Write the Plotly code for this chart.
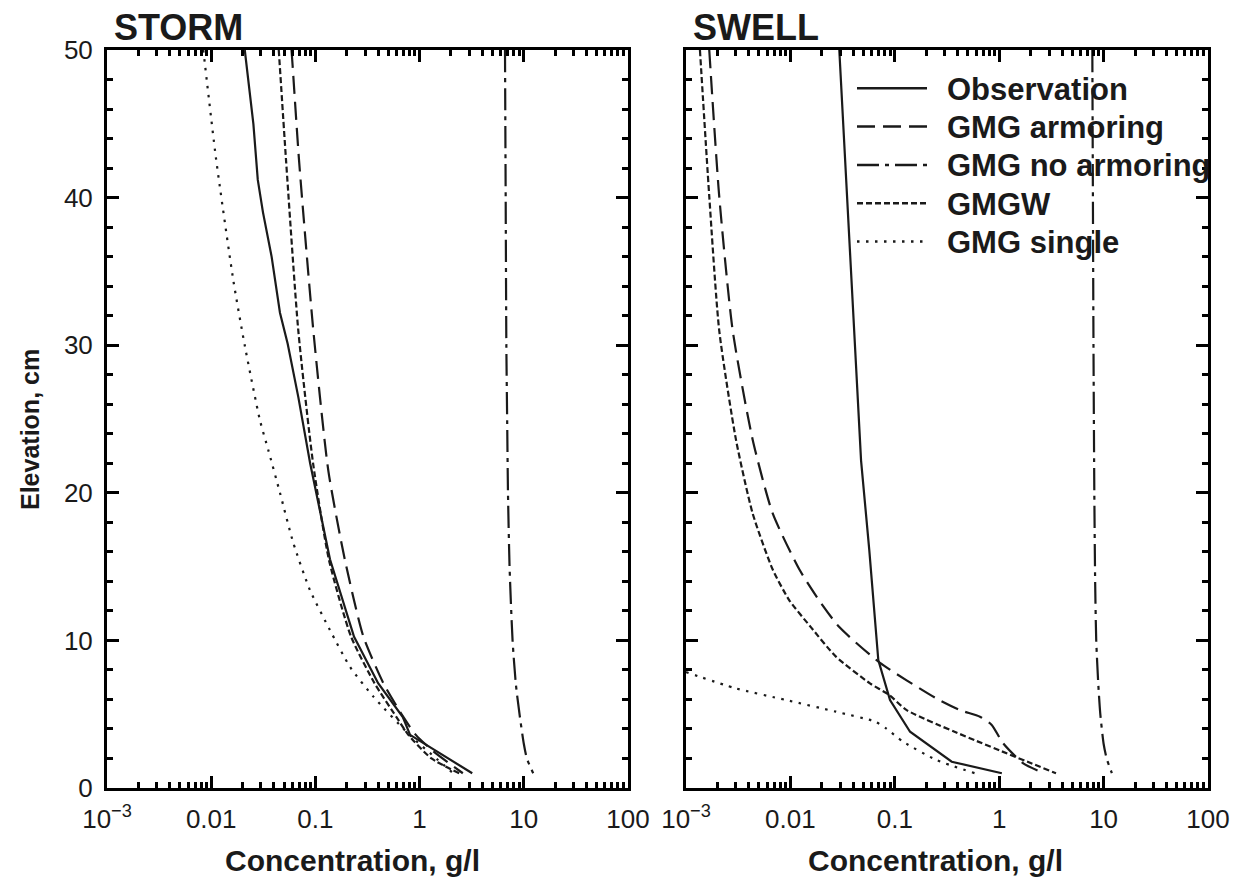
import plotly.graph_objects as go

# ---------------- data ----------------
# STORM panel
storm_obs_z = [50, 45, 41.2, 39, 36, 32.2, 30.1, 26.5, 22, 15.5, 10.25, 7.1, 4.8, 3.6, 1.0]
storm_obs_c = [0.021, 0.0254, 0.028, 0.0314, 0.038, 0.0457, 0.0542, 0.0685, 0.089, 0.138, 0.235, 0.40, 0.69, 0.81, 3.2]

storm_arm_z = [50, 48.9, 42.5, 31, 21.5, 15.45, 10.25, 7.09, 4.8, 3.6, 2.5, 1.0]
storm_arm_c = [0.059, 0.0605, 0.0697, 0.0955, 0.133, 0.192, 0.289, 0.45, 0.70, 0.92, 1.35, 2.6]

storm_noarm_z = [50, 40, 30, 24.7, 20, 15, 10, 7, 5, 3, 2, 1.0]
storm_noarm_c = [6.6, 6.7, 6.8, 6.93, 7.05, 7.3, 7.8, 8.4, 9.1, 10.0, 10.7, 12.3]

storm_gmgw_z = [50, 42.5, 31, 22, 15.45, 10.25, 7.09, 4.8, 3.6, 2.0, 1.0]
storm_gmgw_c = [0.0445, 0.0523, 0.0685, 0.095, 0.135, 0.22, 0.37, 0.60, 0.78, 1.3, 2.4]

storm_single_z = [50, 42.7, 34.4, 29.9, 24.9, 22.9, 20.0, 16.6, 13.4, 10.7, 8.2, 6.19, 3.6, 1.9, 1.0]
storm_single_c = [0.0084, 0.0111, 0.0163, 0.0211, 0.0294, 0.0353, 0.0457, 0.0614, 0.0888, 0.138, 0.215, 0.36, 0.80, 1.5, 2.1]

# SWELL panel
swell_obs_z = [50, 38.0, 31.0, 25.6, 22.2, 16.1, 12.7, 10.9, 8.67, 5.96, 3.81, 1.78, 1.0]
swell_obs_c = [0.0294, 0.0361, 0.0402, 0.0441, 0.0475, 0.057, 0.0622, 0.0646, 0.0695, 0.090, 0.140, 0.351, 1.06]

swell_arm_z = [50, 40.1, 31.0, 23.6, 18.6, 14.8, 12.7, 10.9, 8.5, 6.08, 5.28, 4.83, 4.27, 3.03, 1.67, 1.0]
swell_arm_c = [0.00167, 0.00208, 0.0028, 0.00435, 0.00677, 0.0122, 0.0189, 0.0294, 0.0716, 0.248, 0.421, 0.654, 0.848, 1.09, 1.70, 2.7]

swell_noarm_z = [50, 40, 30, 20, 14, 10, 7, 5, 3, 2, 1.0]
swell_noarm_c = [7.8, 7.9, 8.0, 8.15, 8.3, 8.5, 8.9, 9.3, 10.0, 10.7, 12.0]

swell_gmgw_z = [50, 40.1, 31.0, 23.6, 18.6, 14.8, 12.7, 10.9, 8.9, 7.09, 6.3, 5.28, 1.0]
swell_gmgw_c = [0.00136, 0.00167, 0.00208, 0.00301, 0.00435, 0.00677, 0.0098, 0.0157, 0.0273, 0.0578, 0.0885, 0.13, 3.5]

swell_single_z = [7.85, 6.75, 5.96, 5.17, 4.5, 4.04, 3.14, 1.9, 1.0]
swell_single_c = [0.001, 0.003, 0.0091, 0.0273, 0.0646, 0.0825, 0.12, 0.25, 0.586]

series_names = ["Observation", "GMG armoring", "GMG no armoring", "GMGW", "GMG single"]
panel_titles = ["STORM", "SWELL"]
x_tickvals = [0.001, 0.01, 0.1, 1, 10, 100]
x_ticktext = ["10<sup>\u22123</sup>", "0.01", "0.1", "1", "10", "100"]
y_tickvals = [0, 10, 20, 30, 40, 50]

# ---------------- styling ----------------
PAGE_OFF = 8            # default page body margin
W, H = 1240 - PAGE_OFF, 888 - PAGE_OFF
INK = "#1a1a1a"
FONT = "Liberation Sans, Arial, Helvetica, sans-serif"
dashes = {
    "Observation": "solid",
    "GMG armoring": "18px,8px",
    "GMG no armoring": "22px,6px,4px,6px",
    "GMGW": "6px,3px",
    "GMG single": "2.5px,6.5px",
}
shapes_ = {
    "Observation": "linear",
    "GMG armoring": "spline",
    "GMG no armoring": "spline",
    "GMGW": "spline",
    "GMG single": "spline",
}

def px_x(p):
    return (p - PAGE_OFF) / W

def px_y(p):
    return 1 - (p - PAGE_OFF) / H

fig = go.Figure()

storm = [(storm_obs_c, storm_obs_z), (storm_arm_c, storm_arm_z), (storm_noarm_c, storm_noarm_z),
         (storm_gmgw_c, storm_gmgw_z), (storm_single_c, storm_single_z)]
swell = [(swell_obs_c, swell_obs_z), (swell_arm_c, swell_arm_z), (swell_noarm_c, swell_noarm_z),
         (swell_gmgw_c, swell_gmgw_z), (swell_single_c, swell_single_z)]

for panel, (xa, ya) in zip([storm, swell], [("x", "y"), ("x2", "y2")]):
    for name, (c, z) in zip(series_names, panel):
        fig.add_trace(go.Scatter(
            x=c, y=z, mode="lines", name=name, xaxis=xa, yaxis=ya, showlegend=False,
            line=dict(color=INK, width=2.2, dash=dashes[name], shape=shapes_[name],
                      smoothing=0.6 if shapes_[name] == "spline" else None),
        ))

minor_x = []
for dec in [0.001, 0.01, 0.1, 1, 10]:
    for k in range(2, 10):
        minor_x.append(dec * k)

common_x = dict(
    type="log", range=[-3, 2], showline=True, linewidth=3, linecolor="black",
    mirror="ticks", ticks="inside", ticklen=12, tickwidth=3, tickcolor="black",
    tickvals=x_tickvals, ticktext=x_ticktext, showgrid=False, zeroline=False,
    tickfont=dict(family=FONT, size=26, color=INK), ticklabelstandoff=6,
    automargin=False,
    minor=dict(tickvals=minor_x, ticks="inside", ticklen=6, tickwidth=2.5,
               tickcolor="black", showgrid=False),
)
common_y = dict(
    range=[0, 50], showline=True, linewidth=3, linecolor="black",
    mirror="ticks", ticks="inside", ticklen=12, tickwidth=3, tickcolor="black",
    tickvals=y_tickvals, showgrid=False, zeroline=False,
    tickfont=dict(family=FONT, size=26, color=INK), ticklabelstandoff=6,
    automargin=False,
    minor=dict(dtick=2, ticks="inside", ticklen=6, tickwidth=2.5,
               tickcolor="black", showgrid=False),
)

y_dom = [px_y(788), px_y(50)]
fig.update_layout(
    width=W, height=H, margin=dict(l=0, r=0, t=0, b=0, autoexpand=False),
    paper_bgcolor="white", plot_bgcolor="white", showlegend=False,
    xaxis=dict(domain=[px_x(107), px_x(628)], anchor="y", **common_x),
    xaxis2=dict(domain=[px_x(686), px_x(1208)], anchor="y2", **common_x),
    yaxis=dict(domain=y_dom, anchor="x", **common_y),
    yaxis2=dict(domain=y_dom, anchor="x2", showticklabels=False, **common_y),
)

ann = []
# panel titles
for title, xp in zip(panel_titles, [112, 691]):
    ann.append(dict(text="<b>%s</b>" % title, x=px_x(xp), y=px_y(27), xref="paper", yref="paper",
                    xanchor="left", yanchor="middle", showarrow=False,
                    font=dict(family=FONT, size=36, color=INK)))
# x axis titles
for xp in [352, 935]:
    ann.append(dict(text="<b>Concentration, g/l</b>", x=px_x(xp), y=px_y(860), xref="paper", yref="paper",
                    xanchor="center", yanchor="middle", showarrow=False,
                    font=dict(family=FONT, size=30, color=INK)))
# y axis title
ann.append(dict(text="<b>Elevation, cm</b>", x=px_x(30), y=px_y(430), xref="paper", yref="paper",
                xanchor="center", yanchor="middle", showarrow=False, textangle=-90,
                font=dict(family=FONT, size=25, color=INK)))

# legend (drawn in the SWELL panel)
shp = []
for i, name in enumerate(series_names):
    yy = 88.3 + i * 38.3
    shp.append(dict(type="line", xref="paper", yref="paper", x0=px_x(857), x1=px_x(927),
                    y0=px_y(yy), y1=px_y(yy), line=dict(color=INK, width=2.5, dash=dashes[name])))
    ann.append(dict(text="<b>%s</b>" % name, x=px_x(945), y=px_y(yy + 1), xref="paper", yref="paper",
                    xanchor="left", yanchor="middle", showarrow=False,
                    font=dict(family=FONT, size=31, color=INK)))

fig.update_layout(annotations=ann, shapes=shp)
fig.write_html("out.html")
